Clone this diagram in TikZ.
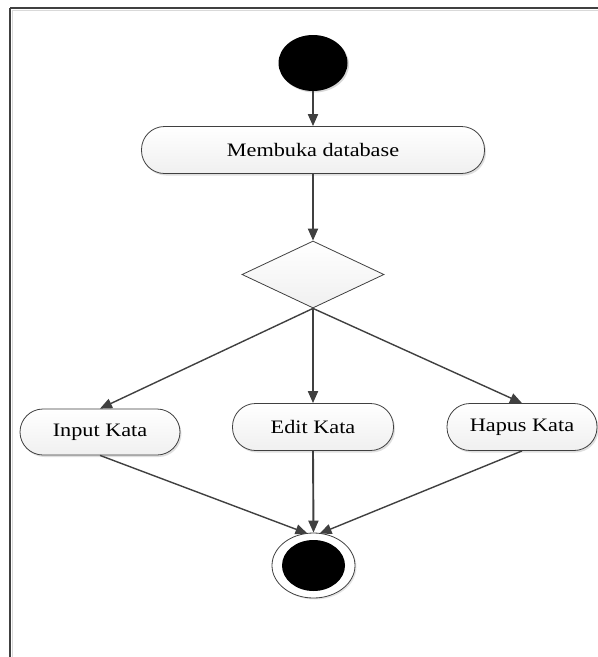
\documentclass[tikz,border=0pt]{standalone}
\usepackage{fontspec}
\setmainfont[FakeStretch=1.17]{Liberation Serif}
\usetikzlibrary{shapes.geometric,arrows.meta,shadows}
\definecolor{lineg}{HTML}{404040}
\tikzset{
  act/.style={draw=lineg, line width=0.8pt, rectangle, rounded corners=23pt,
    top color=white, bottom color=gray!12, inner sep=0pt,
    drop shadow={opacity=0.25, shadow xshift=1.5pt, shadow yshift=-2pt},
    font=\fontsize{19}{21}\selectfont},
  flow/.style={draw=lineg, line width=1.9pt, -{Triangle[length=12pt,width=10pt]}},
  dflow/.style={draw=lineg, line width=1.4pt, -{Triangle[length=12pt,width=10pt]}},
}
\begin{document}
\begin{tikzpicture}[x=1pt,y=-1pt]
\useasboundingbox (0,0) rectangle (598,657);
\fill[white] (0,0) rectangle (598,657);
% frame
\draw[gray!30, line width=1pt] (12,10) -- (598,10);
\draw[gray!30, line width=1pt] (12,10) -- (12,657);
\draw[lineg, line width=1.2pt] (10,8) -- (598,8);
\draw[lineg, line width=1.2pt] (10,8) -- (10,657);
% nodes
\node[ellipse, fill=black, minimum width=69pt, minimum height=56pt, inner sep=0pt,
  drop shadow={opacity=0.3, shadow xshift=1.5pt, shadow yshift=-1.5pt}] (start) at (313,63) {};
\node[act, minimum width=343pt, minimum height=47pt] (open) at (313,150) {Membuka database};
\node[diamond, draw=lineg, line width=0.8pt, top color=white, bottom color=gray!12,
  minimum width=142pt, minimum height=67pt, inner sep=0pt, aspect=2.12] (dec) at (313,274.5) {};
\node[act, minimum width=160pt, minimum height=46pt] (input) at (100,432) {Input Kata};
\node[act, minimum width=161pt, minimum height=47pt] (edit) at (313,427) {Edit Kata};
\node[act, minimum width=150pt, minimum height=47pt] (hapus) at (522,427) {Hapus Kata};
\node[ellipse, draw=lineg, line width=0.8pt, fill=white, minimum width=83pt, minimum height=65pt, inner sep=0pt,
  drop shadow={opacity=0.2, shadow xshift=1.5pt, shadow yshift=-1.5pt}] (end) at (313.5,565.5) {};
\node[ellipse, fill=black, minimum width=63pt, minimum height=51pt, inner sep=0pt] (endin) at (313.5,565.5) {};
% connectors
\draw[flow] (start) -- (open);
\draw[flow] (open) -- (dec.north);
\draw[dflow] (dec.south) -- (input.north);
\draw[flow] (dec.south) -- (edit.north);
\draw[dflow] (dec.south) -- (hapus.north);
\draw[dflow] (input.south) -- ([xshift=-6pt,yshift=-1pt]end.north);
\draw[flow] (edit.south) -- (end.north);
\draw[dflow] (hapus.south) -- ([xshift=6pt,yshift=-1pt]end.north);
\end{tikzpicture}
\end{document}
